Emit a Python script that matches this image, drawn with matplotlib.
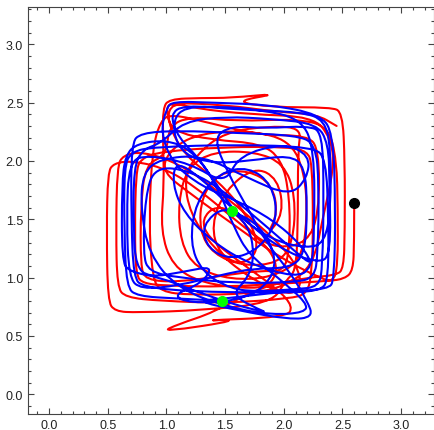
import numpy as np
import matplotlib
matplotlib.use("Agg")
import matplotlib.pyplot as plt
from matplotlib.path import Path
from matplotlib.patches import PathPatch
from matplotlib.ticker import MultipleLocator, FormatStrFormatter

# Waypoints (data coordinates)
red_pts = [
    (2.60, 1.64), (2.60, 1.30), (2.59, 1.06), (2.52, 0.99), (2.38, 0.97),
    (2.00, 0.95), (1.50, 0.92), (1.00, 0.93), (0.80, 0.95), (0.74, 1.02),
    (0.73, 1.40), (0.74, 1.90), (0.78, 2.02),
    (0.95, 2.08), (1.50, 2.12), (2.05, 2.12), (2.20, 2.08), (2.24, 1.98),
    (2.25, 1.50), (2.24, 1.05), (2.20, 0.86),
    (2.05, 0.82), (1.50, 0.78), (0.95, 0.80), (0.65, 0.83), (0.58, 0.92),
    (0.57, 1.40), (0.58, 1.95), (0.63, 2.05), (0.80, 2.08),
    (1.10, 1.98), (1.42, 1.76), (1.78, 1.46), (2.05, 1.20), (2.15, 1.00),
    (2.12, 0.88), (2.00, 0.86),
    (1.70, 1.00), (1.40, 1.25), (1.20, 1.55), (1.15, 1.85), (1.25, 2.05),
    (1.50, 2.25), (1.90, 2.30), (2.15, 2.28), (2.12, 2.10), (2.12, 1.40),
    (2.10, 1.05), (2.02, 0.98),
    (1.90, 0.78), (1.30, 0.72), (0.75, 0.70), (0.56, 0.71), (0.50, 0.80),
    (0.49, 1.40), (0.50, 1.90), (0.55, 1.98), (0.70, 2.00),
    (0.95, 1.95), (1.22, 1.80), (1.58, 1.50), (1.85, 1.28), (1.95, 1.10),
    (1.90, 0.95), (1.75, 0.90),
    (1.30, 0.95), (1.05, 1.10), (0.95, 1.40), (0.98, 1.80), (0.97, 2.20),
    (0.97, 2.45), (1.02, 2.53), (1.30, 2.54), (1.54, 2.54),
    (1.97, 2.58), (1.57, 2.51), (1.90, 2.46), (2.40, 2.46), (2.50, 2.42),
    (2.52, 2.00), (2.52, 1.40), (2.51, 1.08), (2.45, 1.02), (2.20, 1.00),
    (1.80, 0.92), (1.40, 0.70), (1.10, 0.60), (0.95, 0.53),
    (1.66, 0.64), (1.26, 0.63), (2.02, 0.66), (2.08, 0.75), (1.95, 0.90),
    (1.60, 1.15), (1.35, 1.35), (1.30, 1.50), (1.42, 1.62), (1.60, 1.55),
    (1.75, 1.35), (1.95, 1.25), (2.20, 1.30), (2.30, 1.55), (2.30, 2.10),
    (2.20, 2.22), (1.80, 2.22), (1.35, 2.33), (1.05, 2.40), (0.95, 2.35),
    (0.88, 2.10), (0.85, 1.50), (0.88, 1.00), (0.95, 0.88), (1.20, 0.85),
    (1.70, 0.86), (2.00, 0.92), (2.25, 1.10), (2.33, 1.50), (2.43, 1.95),
    (2.40, 2.20), (2.25, 2.38), (1.70, 2.40), (1.25, 2.45), (1.05, 2.50),
    (1.00, 2.35), (1.15, 2.05), (1.45, 1.82), (1.68, 1.55), (1.80, 1.25),
    (1.65, 1.10), (1.45, 1.20), (1.38, 1.45), (1.50, 1.75), (1.75, 1.95),
    (1.95, 1.85), (2.00, 1.55), (1.85, 1.35),
    (1.95, 1.55), (1.90, 1.80), (1.70, 1.92), (1.45, 1.90), (1.30, 1.70),
    (1.28, 1.40), (1.40, 1.20), (1.65, 1.10), (1.95, 1.12), (2.08, 1.30),
    (2.10, 1.70), (2.00, 1.98), (1.75, 2.08), (1.40, 2.08), (1.18, 1.95),
    (1.10, 1.65), (1.12, 1.30), (1.25, 1.08), (1.55, 0.98), (1.90, 1.00),
    (2.15, 1.15), (2.20, 1.50), (2.18, 1.90), (2.05, 2.18), (1.70, 2.26),
    (1.30, 2.24), (1.05, 2.12), (0.95, 1.92),
    (1.20, 1.72), (1.62, 1.42), (1.95, 1.18), (2.30, 1.00), (2.42, 0.96),
    (2.46, 1.10), (2.46, 1.60), (2.45, 2.00), (2.38, 2.30), (2.10, 2.36),
    (1.60, 2.34), (1.20, 2.38), (1.02, 2.30), (1.00, 2.05), (0.82, 1.97),
    (0.78, 1.60), (0.78, 1.10), (0.82, 0.98), (1.10, 0.96), (1.50, 1.02),
    (1.80, 1.06), (2.00, 1.05), (2.05, 1.25), (2.05, 1.70), (1.98, 2.02),
    (1.80, 2.15), (1.40, 2.18), (1.05, 2.25), (0.99, 2.45), (1.05, 2.50),
    (1.50, 2.48), (1.95, 2.42), (2.28, 2.40), (2.45, 2.30),
]

blue_pts = [
    (1.47, 0.80), (1.10, 0.82), (0.75, 0.84), (0.66, 0.92),
    (0.64, 1.40), (0.64, 1.95), (0.70, 2.08), (0.90, 2.12), (1.60, 2.14),
    (2.25, 2.12), (2.36, 2.02), (2.38, 1.50), (2.38, 1.00), (2.32, 0.88),
    (1.90, 0.87), (1.20, 0.88), (0.80, 0.92), (0.72, 1.00),
    (0.70, 1.50), (0.70, 2.15), (0.78, 2.24), (1.10, 2.26), (1.60, 2.24),
    (2.10, 2.22), (2.27, 2.15), (2.30, 1.80), (2.29, 1.20), (2.26, 1.00),
    (2.10, 0.96), (1.60, 0.95), (1.10, 1.00), (0.85, 1.05), (0.80, 1.20),
    (0.82, 1.70), (0.90, 1.95), (1.20, 1.92), (1.52, 1.72), (1.85, 1.44),
    (2.10, 1.22), (2.25, 1.10), (2.15, 1.28), (1.90, 1.50),
    (1.60, 1.66), (1.30, 1.78), (1.05, 1.98), (0.95, 2.25), (1.00, 2.45),
    (1.05, 2.51), (1.40, 2.50), (1.90, 2.48), (2.30, 2.40), (2.42, 2.25),
    (2.44, 1.60), (2.43, 0.98), (2.38, 0.90), (2.00, 0.88),
    (1.50, 0.82), (1.25, 0.80), (1.60, 0.72), (2.05, 0.64), (2.25, 0.66),
    (2.20, 0.80), (2.05, 1.05), (1.85, 1.30), (1.70, 1.58), (1.52, 1.90),
    (1.40, 2.20), (1.55, 2.30), (1.85, 2.28), (2.20, 2.30), (2.33, 2.25),
    (2.34, 1.70), (2.33, 1.10), (2.30, 0.92), (2.10, 0.90),
    (1.80, 0.88), (1.55, 0.90), (1.30, 1.05), (1.20, 1.30), (1.25, 1.65),
    (1.45, 1.90), (1.70, 1.95), (1.90, 1.80), (1.95, 1.50), (1.80, 1.25),
    (1.55, 1.15), (1.35, 1.25), (1.30, 1.45), (1.50, 1.62), (1.70, 1.45),
    (1.75, 1.20), (1.70, 1.00), (1.55, 0.85), (1.80, 0.72), (1.86, 0.70),
    (1.60, 0.76), (1.20, 0.90), (0.95, 1.00), (0.68, 1.05), (0.62, 1.15),
    (0.62, 1.80), (0.65, 2.05), (0.75, 2.15), (1.00, 2.18), (1.20, 2.10),
    (1.38, 1.88), (1.58, 1.55), (1.90, 1.32), (2.20, 1.25), (2.35, 1.30),
    (2.40, 1.60), (2.40, 2.10), (2.35, 2.35), (2.15, 2.42), (1.60, 2.44),
    (1.15, 2.48), (1.03, 2.40), (1.10, 2.20), (1.30, 2.00), (1.46, 1.72),
    (1.58, 1.42), (1.70, 1.20), (1.95, 1.00), (2.20, 0.78), (2.18, 0.70),
    (1.90, 0.68), (1.55, 0.74), (1.10, 0.90), (0.85, 1.20), (0.78, 1.60),
    (0.80, 1.90), (0.95, 2.02), (1.30, 2.05), (1.70, 1.85), (2.05, 1.70),
    (2.20, 1.85), (2.22, 2.05), (2.00, 2.15), (1.62, 2.05), (1.50, 1.80),
    (1.20, 1.98), (0.85, 2.05), (0.68, 2.00), (0.66, 1.50), (0.68, 1.00),
    (0.78, 0.90), (1.10, 0.93), (1.45, 1.02), (1.75, 1.08), (2.05, 1.08),
    (2.18, 1.20), (2.20, 1.60), (2.18, 1.95), (2.05, 2.05), (1.70, 2.00),
    (1.40, 1.98), (1.15, 2.05), (1.05, 2.25), (1.10, 2.45), (1.40, 2.47),
    (1.80, 2.44), (2.15, 2.36), (2.26, 2.10), (2.26, 1.40), (2.24, 1.08),
    (2.10, 1.00), (1.70, 1.12), (1.40, 1.30), (1.15, 1.55), (1.05, 1.80),
    (1.08, 2.00), (1.30, 1.85), (1.55, 1.60), (1.95, 1.25), (2.30, 1.12),
    (2.40, 1.20), (2.39, 1.80), (2.38, 2.15), (2.28, 2.32), (1.90, 2.36),
    (1.50, 2.38), (1.15, 2.34), (0.95, 2.15), (0.80, 2.10), (0.72, 1.95),
    (0.72, 1.40), (0.74, 1.10), (0.85, 1.00), (1.15, 1.05), (1.40, 1.10),
    (1.30, 0.95), (1.05, 0.85), (1.20, 0.78), (1.60, 0.80), (1.85, 0.92),
    (1.95, 1.15), (1.80, 1.45), (1.56, 1.57),
]

green_x = [1.56, 1.47]
green_y = [1.57, 0.80]
black_x = [2.60]
black_y = [1.64]

xticks = [0.0, 0.5, 1.0, 1.5, 2.0, 2.5, 3.0]
yticks = [0.0, 0.5, 1.0, 1.5, 2.0, 2.5, 3.0]


def smooth_path(pts):
    p = np.asarray(pts, dtype=float)
    verts = [p[0]]
    codes = [Path.MOVETO]
    for i in range(1, len(p) - 1):
        verts.append(p[i])
        verts.append((p[i] + p[i + 1]) / 2)
        codes += [Path.CURVE3, Path.CURVE3]
    verts.append(p[-1])
    codes.append(Path.LINETO)
    return Path(np.array(verts), codes)


fig = plt.figure(figsize=(4.35, 4.31), dpi=100)
ax = fig.add_axes([28 / 435, 16 / 431, 406 / 435, 407 / 431])

ax.add_patch(PathPatch(smooth_path(red_pts), fill=False, ec=(1, 0, 0), lw=1.5,
                       capstyle='round', joinstyle='round'))
ax.add_patch(PathPatch(smooth_path(blue_pts), fill=False, ec=(0, 0, 1), lw=1.5,
                       capstyle='round', joinstyle='round'))
ax.plot(black_x, black_y, 'o', color='black', ms=7, zorder=5)
ax.plot(green_x, green_y, 'o', color=(0, 1, 0), ms=7, zorder=5)

ax.set_xlim(-0.18, 3.28)
ax.set_ylim(-0.17, 3.32)
ax.set_xticks(xticks)
ax.set_yticks(yticks)
ax.xaxis.set_major_formatter(FormatStrFormatter('%.1f'))
ax.yaxis.set_major_formatter(FormatStrFormatter('%.1f'))
ax.xaxis.set_minor_locator(MultipleLocator(0.1))
ax.yaxis.set_minor_locator(MultipleLocator(0.1))
ax.tick_params(which='both', direction='in', top=True, right=True,
               color='#444444', labelsize=9, labelcolor='#222222', width=0.8)
ax.tick_params(which='major', length=4)
ax.tick_params(which='minor', length=2)
for s in ax.spines.values():
    s.set_color('#444444')
    s.set_linewidth(0.8)
for lab in ax.get_xticklabels() + ax.get_yticklabels():
    lab.set_family('Liberation Sans')

fig.savefig('out.png', dpi=100)
